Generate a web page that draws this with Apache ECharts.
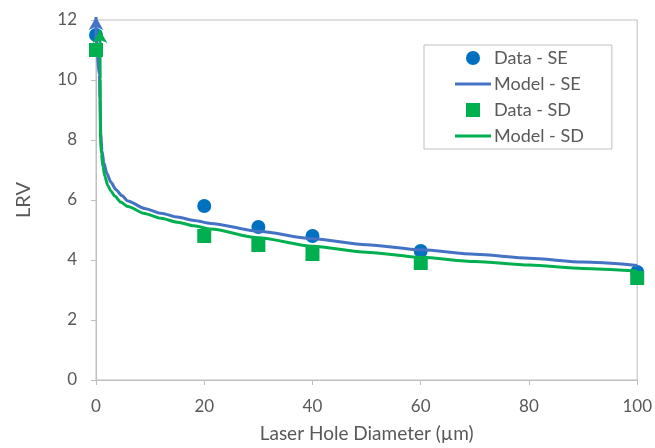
<!DOCTYPE html>
<html>
<head>
<meta charset="utf-8">
<script src="https://cdn.jsdelivr.net/npm/echarts@6/dist/echarts.min.js"></script>
<style>
  html, body { margin: 0; padding: 0; background: #fff; }
  #chart { width: 655px; height: 448px; }
</style>
</head>
<body>
<div id="chart"></div>
<script>
// Measured log removal values per laser hole diameter
const holeDiameters = [0, 20, 30, 40, 60, 100];
const dataSE = [11.5, 5.8, 5.1, 4.8, 4.3, 3.6];
const dataSD = [11.0, 4.8, 4.5, 4.2, 3.9, 3.4];

// Model curves (diameter, LRV)
const modelSEx = [0, 0, 0.64, 0.73, 0.88, 1.10, 1.46, 2.01, 2.74, 3.66, 4.75, 5.9, 8.96, 12.0, 15.05, 18.1, 21.2, 30, 40, 50, 60, 70, 80, 90, 100];
const modelSEy = [12.1, 11.34, 10.18, 9.36, 8.2, 7.64, 7.24, 6.88, 6.60, 6.35, 6.15, 5.97, 5.72, 5.56, 5.43, 5.32, 5.22, 4.96, 4.71, 4.51, 4.34, 4.19, 4.06, 3.93, 3.82];
const modelSDx = [0.73, 0.77, 0.82, 1.01, 1.28, 1.65, 2.19, 2.74, 3.47, 4.57, 5.9, 8.96, 12.0, 15.05, 18.1, 21.2, 30, 40, 50, 60, 70, 80, 90, 100];
const modelSDy = [11.67, 10.02, 8.03, 7.54, 7.11, 6.78, 6.48, 6.30, 6.13, 5.93, 5.78, 5.55, 5.39, 5.26, 5.14, 5.03, 4.74, 4.46, 4.26, 4.09, 3.95, 3.83, 3.72, 3.63];

const xTicks = [0, 20, 40, 60, 80, 100];
const yTicks = [0, 2, 4, 6, 8, 10, 12];

const seriesNames = ['Data - SE', 'Model - SE', 'Data - SD', 'Model - SD'];

const FONT = 'Lato';
const TEXT = '#595959';
const AXIS = '#bfbfbf';
const BLUE_DOT = '#0070C0';
const BLUE_LINE = '#4472C4';
const GREEN = '#00B050';

const SQUARE_ICON = 'path://M0,0h10v10h-10z';
const LINE_ICON = 'path://M0,0h36v3h-36z';

// The first model point carries an upward arrow (curve continues off scale)
function curve(xs, ys, color) {
  return xs.map((x, i) => i === 0
    ? { value: [x, ys[i]], symbol: 'arrow', symbolSize: [11, 13], itemStyle: { color: color } }
    : [x, ys[i]]);
}

const chart = echarts.init(document.getElementById('chart'), null, { renderer: 'canvas' });

chart.setOption({
  animation: false,
  textStyle: { fontFamily: FONT },
  grid: {
    left: 96, right: 12, top: 20, bottom: 65,
    show: true, borderColor: AXIS, borderWidth: 1, backgroundColor: 'transparent'
  },
  legend: {
    data: [
      { name: seriesNames[0], icon: 'circle' },
      { name: seriesNames[1], icon: LINE_ICON },
      { name: seriesNames[2], icon: SQUARE_ICON },
      { name: seriesNames[3], icon: LINE_ICON }
    ],
    symbolKeepAspect: true,
    orient: 'vertical',
    left: 424, top: 45,
    padding: [3, 28, 3, 31],
    itemGap: 6,
    itemWidth: 36, itemHeight: 14,
    borderColor: AXIS, borderWidth: 1,
    backgroundColor: '#fff',
    textStyle: { fontFamily: FONT, fontSize: 18, lineHeight: 20, color: TEXT, padding: [0, 0, 0, -2] }
  },
  xAxis: {
    type: 'value',
    min: 0, max: 100, interval: 20,
    name: 'Laser Hole Diameter (µm)',
    nameLocation: 'middle',
    nameGap: 44,
    nameTextStyle: { fontFamily: FONT, fontSize: 19, color: TEXT },
    axisLine: { show: true, lineStyle: { color: AXIS, width: 1 } },
    axisTick: { show: true, length: 5, lineStyle: { color: AXIS } },
    axisLabel: {
      fontFamily: FONT, fontSize: 17, color: TEXT, margin: 18,
      formatter: v => xTicks.includes(v) ? String(v) : ''
    },
    splitLine: { show: false }
  },
  yAxis: {
    type: 'value',
    min: 0, max: 12, interval: 2,
    name: 'LRV',
    nameLocation: 'middle',
    nameGap: 62,
    nameRotate: 90,
    nameTextStyle: { fontFamily: FONT, fontSize: 20, color: TEXT },
    axisLine: { show: true, lineStyle: { color: AXIS, width: 1 } },
    axisTick: { show: true, length: 5, lineStyle: { color: AXIS } },
    axisLabel: {
      fontFamily: FONT, fontSize: 17, color: TEXT, margin: 19,
      formatter: v => yTicks.includes(v) ? String(v) : ''
    },
    splitLine: { show: false }
  },
  series: [
    {
      name: seriesNames[0],
      type: 'scatter',
      symbol: 'circle',
      symbolSize: 14,
      itemStyle: { color: BLUE_DOT, opacity: 1 },
      data: holeDiameters.map((x, i) => [x, dataSE[i]]),
      clip: false,
      z: 2
    },
    {
      name: seriesNames[1],
      type: 'line',
      symbol: 'none',
      showSymbol: true,
      smooth: 0.25,
      smoothMonotone: 'x',
      clip: false,
      lineStyle: { color: BLUE_LINE, width: 3 },
      itemStyle: { color: BLUE_LINE },
      data: curve(modelSEx, modelSEy, BLUE_LINE),
      z: 3
    },
    {
      name: seriesNames[2],
      type: 'scatter',
      symbol: 'rect',
      symbolSize: 14,
      itemStyle: { color: GREEN, opacity: 1 },
      data: holeDiameters.map((x, i) => [x, dataSD[i]]),
      clip: false,
      z: 4
    },
    {
      name: seriesNames[3],
      type: 'line',
      symbol: 'none',
      showSymbol: true,
      smooth: 0.25,
      smoothMonotone: 'x',
      clip: false,
      lineStyle: { color: GREEN, width: 3 },
      itemStyle: { color: GREEN },
      data: curve(modelSDx, modelSDy, GREEN),
      z: 5
    }
  ]
});
</script>
</body>
</html>
